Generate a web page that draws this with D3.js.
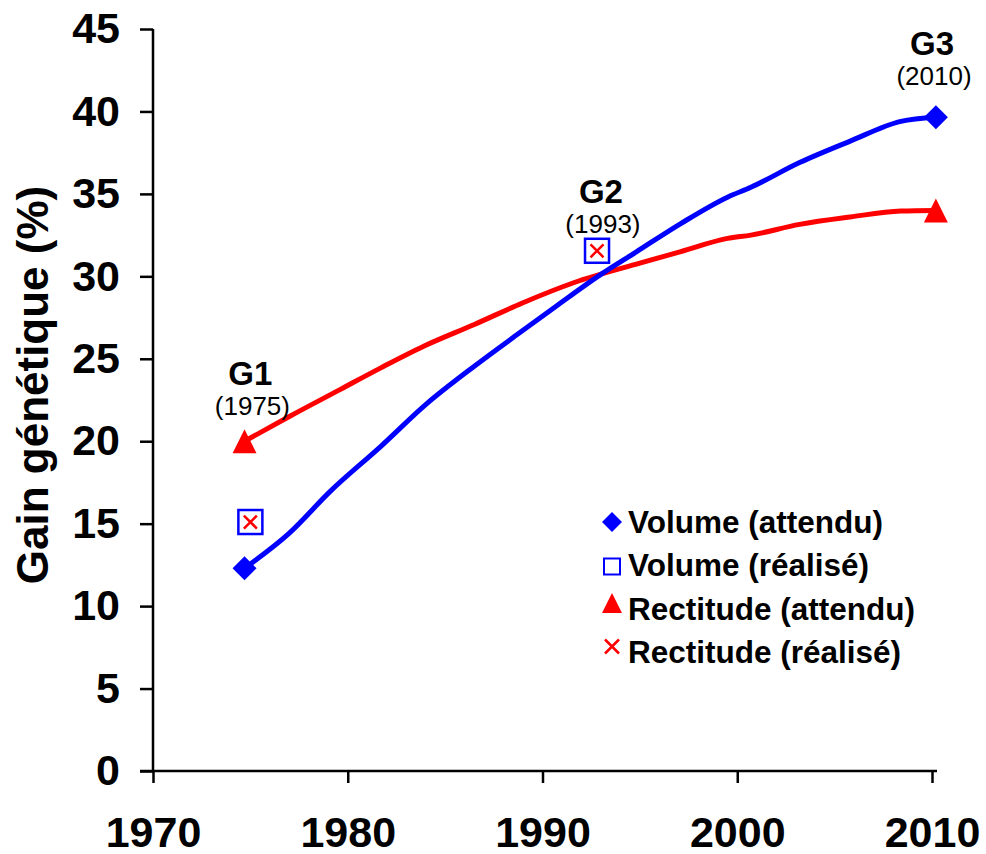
<!DOCTYPE html>
<html>
<head>
<meta charset="utf-8">
<script src="https://cdn.jsdelivr.net/npm/d3@7"></script>
<style>
  body { margin: 0; background: #fff; }
  svg { font-family: "Liberation Sans", Arial, sans-serif; }
</style>
</head>
<body>
<div id="chart"></div>
<script>
var width = 986,
    height = 854;

// expected gain curves (year, %)
var volumeYears = [1974.7, 1977.0, 1979.1, 1981.7, 1984.0, 1986.5, 1988.7, 1990.7, 1993.0, 1994.8, 1997.1, 1999.5, 2000.7, 2003.2, 2005.8, 2008.4, 2010.2];
var volumeValues = [12.3, 14.43, 16.96, 19.69, 22.22, 24.55, 26.47, 28.19, 30.12, 31.47, 33.2, 34.8, 35.4, 36.9, 38.2, 39.4, 39.65];
var rectYears = [1974.7, 1977.0, 1979.6, 1981.7, 1983.9, 1986.5, 1989.0, 1991.6, 1995.0, 1997.1, 1999.5, 2000.7, 2003.2, 2005.8, 2008.4, 2010.2];
var rectValues = [20.0, 21.5, 23.13, 24.45, 25.76, 27.08, 28.4, 29.61, 30.8, 31.5, 32.3, 32.5, 33.15, 33.6, 33.96, 34.0];

// realised gains
var realYears = [1975.0, 1992.8];
var volumeReal = [15.1, 31.55];
var rectReal = [15.1, 31.55];

// generations
var genNames = ["G1", "G2", "G3"];
var genYears = [1975, 1993, 2010];

var xTicks = [1970, 1980, 1990, 2000, 2010];
var yTicks = [0, 5, 10, 15, 20, 25, 30, 35, 40, 45];

var legendLabels = ["Volume (attendu)", "Volume (réalisé)", "Rectitude (attendu)", "Rectitude (réalisé)"];

var x = d3.scaleLinear().domain([1970, 2010]).range([153, 932]);
var y = d3.scaleLinear().domain([0, 45]).range([771, 29]);

var svg = d3.select("#chart").append("svg")
    .attr("width", width)
    .attr("height", height);

// axes
var yAxis = svg.append("g")
    .attr("transform", "translate(153,0)")
    .call(d3.axisLeft(y).tickValues(yTicks).tickSize(13).tickPadding(20).tickSizeOuter(0));
var xAxis = svg.append("g")
    .attr("transform", "translate(0,771)")
    .call(d3.axisBottom(x).tickValues(xTicks).tickFormat(d3.format("d")).tickSize(12).tickPadding(33).tickSizeOuter(0));

[xAxis, yAxis].forEach(function(g) {
    g.select(".domain").remove();
    g.selectAll(".tick line").attr("stroke", "#000").attr("stroke-width", 2.5);
    g.selectAll(".tick text")
        .attr("fill", "#000")
        .style("font-size", "43px")
        .style("font-weight", "bold");
});

svg.append("line")
    .attr("x1", 153).attr("x2", 153)
    .attr("y1", y(45)).attr("y2", y(0))
    .attr("stroke", "#000").attr("stroke-width", 2.5);
svg.append("line")
    .attr("x1", 140).attr("x2", 937)
    .attr("y1", y(0)).attr("y2", y(0))
    .attr("stroke", "#000").attr("stroke-width", 2.5);

svg.append("text")
    .attr("transform", "translate(48,385) rotate(-90)")
    .attr("text-anchor", "middle")
    .style("font-size", "44px")
    .style("font-weight", "bold")
    .text("Gain génétique (%)");

// lines
var line = d3.line()
    .x(function(d) { return x(d[0]); })
    .y(function(d) { return y(d[1]); })
    .curve(d3.curveMonotoneX);

svg.append("path").datum(d3.zip(rectYears, rectValues))
    .attr("d", line)
    .attr("fill", "none").attr("stroke", "#ff0000").attr("stroke-width", 5);
svg.append("path").datum(d3.zip(volumeYears, volumeValues))
    .attr("d", line)
    .attr("fill", "none").attr("stroke", "#0000ff").attr("stroke-width", 5);

// marker helpers
function drawDiamond(g, cx, cy, s) {
    g.append("path")
        .attr("d", "M0," + (-s) + "L" + s + ",0L0," + s + "L" + (-s) + ",0Z")
        .attr("transform", "translate(" + cx + "," + cy + ")")
        .attr("fill", "#0000ff");
}
function drawTriangle(g, cx, cy, s) {
    g.append("path")
        .attr("d", "M0," + (-s) + "L" + s + "," + s + "L" + (-s) + "," + s + "Z")
        .attr("transform", "translate(" + cx + "," + cy + ")")
        .attr("fill", "#ff0000");
}
function drawSquare(g, cx, cy, s, w) {
    g.append("rect")
        .attr("x", cx - s).attr("y", cy - s)
        .attr("width", 2 * s).attr("height", 2 * s)
        .attr("fill", "none").attr("stroke", "#0000ff").attr("stroke-width", w);
}
function drawCross(g, cx, cy, s, w) {
    g.append("path")
        .attr("d", "M" + (-s) + "," + (-s) + "L" + s + "," + s + "M" + s + "," + (-s) + "L" + (-s) + "," + s)
        .attr("transform", "translate(" + cx + "," + cy + ")")
        .attr("fill", "none").attr("stroke", "#ff0000").attr("stroke-width", w);
}

var marks = svg.append("g");
// expected endpoints
[0, volumeYears.length - 1].forEach(function(i) {
    drawDiamond(marks, x(volumeYears[i]), y(volumeValues[i]), 12);
});
[0, rectYears.length - 1].forEach(function(i) {
    drawTriangle(marks, x(rectYears[i]), y(rectValues[i]), 12);
});
// realised
realYears.forEach(function(yr, i) {
    drawSquare(marks, x(yr), y(volumeReal[i]), 12, 2.5);
    drawCross(marks, x(yr), y(rectReal[i]), 6.5, 2.5);
});

// generation labels
var genLabelY = [385, 203, 55];
genNames.forEach(function(name, i) {
    var cx = x(genYears[i]);
    svg.append("text")
        .attr("x", cx).attr("y", genLabelY[i])
        .attr("text-anchor", "middle")
        .style("font-size", "33px").style("font-weight", "bold")
        .text(name);
    svg.append("text")
        .attr("x", cx + 2).attr("y", genLabelY[i] + 30)
        .attr("text-anchor", "middle")
        .style("font-size", "26px")
        .text("(" + genYears[i] + ")");
});

// legend
var legend = svg.append("g").attr("transform", "translate(612,522)");
var rowH = 42.5;
legendLabels.forEach(function(lab, i) {
    var cy = i * rowH;
    if (i === 0) drawDiamond(legend, 0, cy, 10);
    if (i === 1) drawSquare(legend, 0, cy + 2, 8, 2);
    if (i === 2) drawTriangle(legend, 0, cy - 4, 10);
    if (i === 3) drawCross(legend, 0, cy - 3, 7, 2.5);
    legend.append("text")
        .attr("x", 16).attr("y", cy + 11 + (i > 1 ? 2 : 0))
        .style("font-size", "31.5px").style("font-weight", "bold")
        .text(lab);
});
</script>
</body>
</html>
